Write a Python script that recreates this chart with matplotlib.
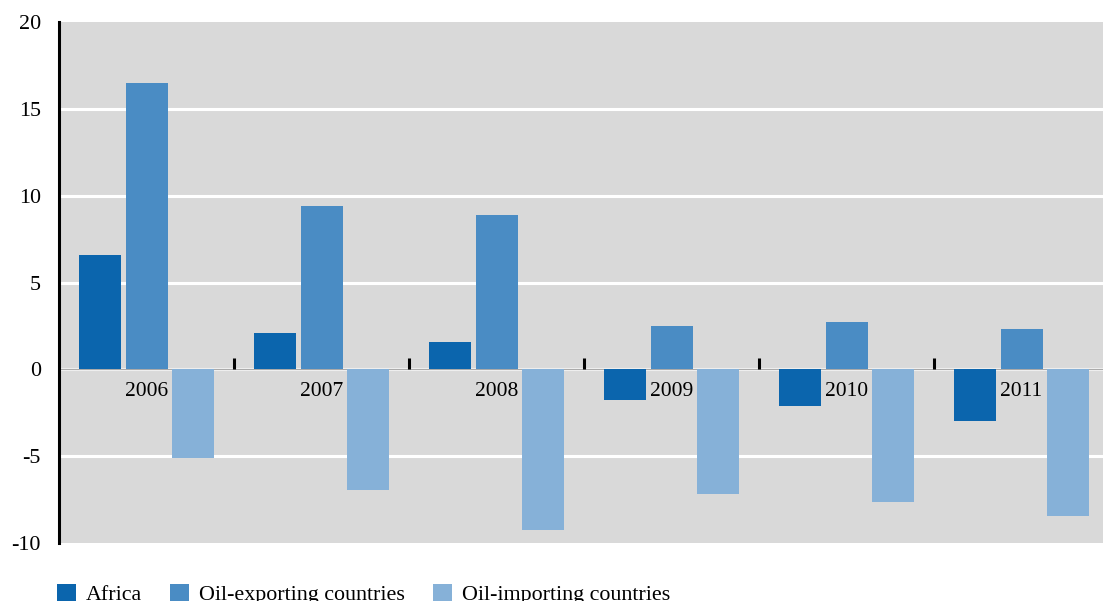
"""
Bar chart of growth by country group, 2006-2011
"""

import matplotlib
matplotlib.use("Agg")
import matplotlib.pyplot as plt
import numpy as np

years = ["2006", "2007", "2008", "2009", "2010", "2011"]
africa = [6.6, 2.1, 1.55, -1.75, -2.1, -2.95]
oil_exporting = [16.5, 9.4, 8.9, 2.5, 2.75, 2.35]
oil_importing = [-5.1, -6.95, -9.25, -7.15, -7.65, -8.45]

series_names = ["Africa", "Oil-exporting countries", "Oil-importing countries"]
colors = ["#0b65ad", "#4a8cc4", "#86b1d8"]

plt.rcParams["font.family"] = ["Liberation Serif", "DejaVu Serif"]
plt.rcParams["axes.unicode_minus"] = False

fig = plt.figure(figsize=(11.03, 6.01), dpi=100)
ax = fig.add_axes([59 / 1103, 58 / 601, 1050 / 1103, 521 / 601])
ax.set_facecolor("#d9d9d9")

x = np.arange(len(years))
width = 0.24
offset = 0.268

# grid lines first so the bars sit on top
for val in [-5, 0, 5, 10, 15]:
    ax.axhline(val, color="white", lw=2.2, zorder=1)

bars = []
for i, (vals, col) in enumerate(zip([africa, oil_exporting, oil_importing], colors)):
    b = ax.bar(x + (i - 1) * offset, vals, width, color=col, zorder=2, label=series_names[i])
    bars.append(b)

ax.set_xlim(-0.5, len(years) - 0.5)
ax.set_ylim(-10, 20)
ax.set_yticks([-10, -5, 0, 5, 10, 15, 20])
ax.tick_params(axis="y", length=0, pad=13, labelsize=15.8)

# x axis sits on zero, with group separators pointing up
ax.spines["bottom"].set_position(("data", 0))
ax.spines["bottom"].set_color("#aaaaaa")
ax.spines["bottom"].set_linewidth(1.0)
ax.spines["bottom"].set_zorder(1.5)
ax.set_xticks(x[:-1] + 0.5)
ax.set_xticklabels([])
ax.tick_params(axis="x", which="major", direction="in", length=8, width=2.2, color="black")
ax.set_xticks(x, minor=True)
ax.set_xticklabels(years, minor=True)
ax.tick_params(axis="x", which="minor", length=0, pad=9, labelsize=15.5)

for s in ["top", "right"]:
    ax.spines[s].set_visible(False)
ax.spines["left"].set_linewidth(2.2)
ax.spines["left"].set_color("black")

fig.legend(handles=bars, loc="upper left", bbox_to_anchor=(57 / 1103, 17 / 601),
           ncol=3, frameon=False, fontsize=15.8, handlelength=0.85, handleheight=0.85,
           handletextpad=0.45, columnspacing=1.3, borderpad=0, borderaxespad=0)

plt.savefig("out.png", dpi=100)
